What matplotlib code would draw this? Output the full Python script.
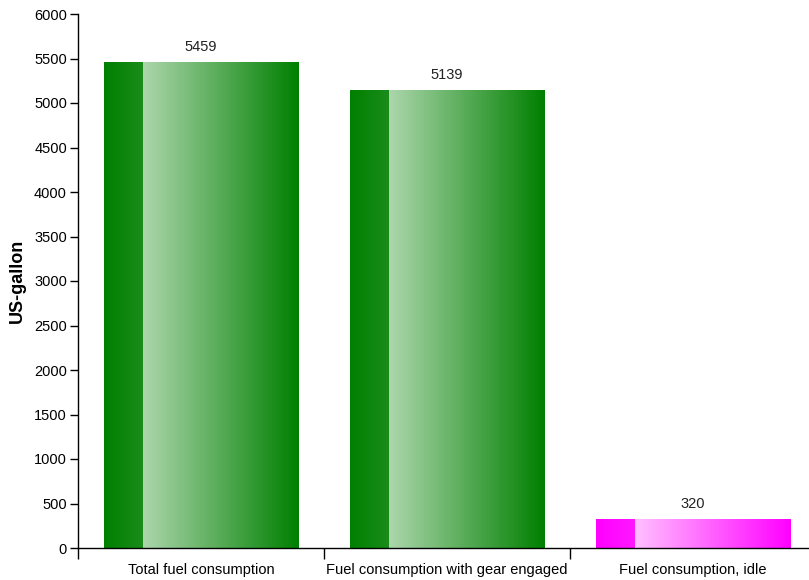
import numpy as np
import matplotlib
matplotlib.use("Agg")
import matplotlib.pyplot as plt
from matplotlib.colors import LinearSegmentedColormap

plt.rcParams['font.family'] = ['Liberation Sans', 'DejaVu Sans']

categories = ["Total fuel consumption", "Fuel consumption with gear engaged", "Fuel consumption, idle"]
values = [5459, 5139, 320]
bar_colors = ["#008000", "#008000", "#ff00ff"]
light_colors = ["#acd6ac", "#acd6ac", "#ffc0ff"]
mid_colors = ["#1a8c1a", "#1a8c1a", "#ff18ff"]
yticks = [0, 500, 1000, 1500, 2000, 2500, 3000, 3500, 4000, 4500, 5000, 5500, 6000]

W, H = 809, 580
fig = plt.figure(figsize=(W / 100, H / 100), dpi=100)
ax = fig.add_axes([78 / W, (H - 548) / H, 738 / W, (548 - 14) / H])

n = len(categories)
pad = 0.106
split = 0.2
for i, (v, c, lc, mc) in enumerate(zip(values, bar_colors, light_colors, mid_colors)):
    x0 = i + pad
    x1 = i + 1 - pad
    xs = x0 + (x1 - x0) * split
    cmap1 = LinearSegmentedColormap.from_list("a%d" % i, [c, mc])
    cmap2 = LinearSegmentedColormap.from_list("b%d" % i, [lc, c])
    grad = np.linspace(0, 1, 256).reshape(1, -1)
    ax.imshow(grad, cmap=cmap1, extent=[x0, xs, 0, v], aspect='auto', interpolation='bilinear', zorder=2)
    ax.imshow(grad, cmap=cmap2, extent=[xs, x1, 0, v], aspect='auto', interpolation='bilinear', zorder=2)
    ax.annotate(str(v), xy=(i + 0.5, v), xytext=(0, 6), textcoords='offset points',
                ha='center', va='bottom', fontsize=10.5, color='#222222')

ax.set_xlim(0, n)
ax.set_ylim(0, 6000)

ax.set_yticks(yticks)
ax.set_yticklabels([str(t) for t in yticks], fontsize=10.5)
ax.set_xticks(range(n + 1))
ax.set_xticklabels([])
ax.set_xticks([i + 0.5 for i in range(n)], minor=True)
ax.set_xticklabels(categories, minor=True, fontsize=10.5)
ax.tick_params(axis='x', which='major', length=8, width=1, direction='out')
ax.tick_params(axis='x', which='minor', length=0, pad=11)
ax.tick_params(axis='y', length=6, width=1, direction='out', pad=2)

for s in ['top', 'right']:
    ax.spines[s].set_visible(False)
ax.spines['left'].set_linewidth(1)
ax.spines['bottom'].set_linewidth(1)

ax.set_ylabel("US-gallon", fontsize=13, fontweight='bold', labelpad=6)

fig.savefig("out.png", dpi=100)
